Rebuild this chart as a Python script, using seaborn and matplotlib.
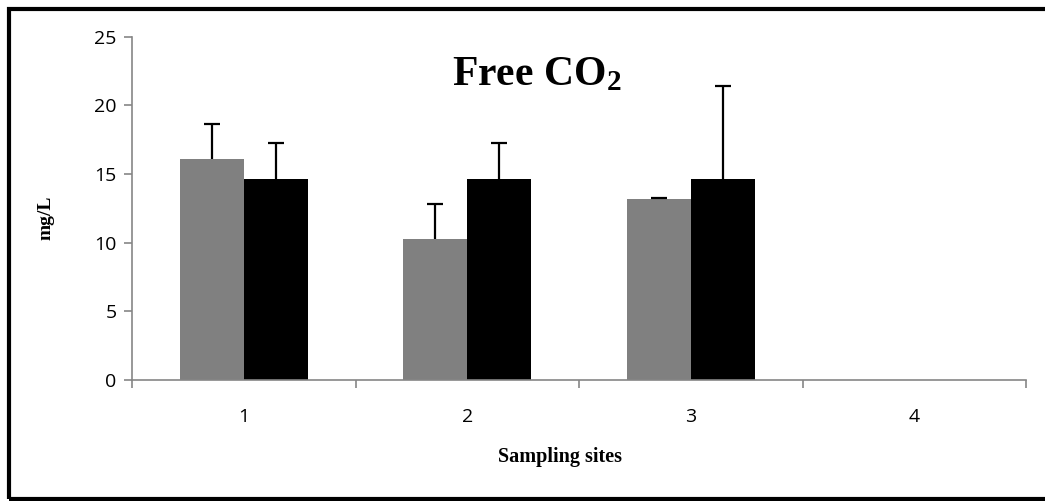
import numpy as np
import pandas as pd
import matplotlib
matplotlib.use("Agg")
import matplotlib.pyplot as plt
from matplotlib.patches import Rectangle
import seaborn as sns

# ---- data ----
sites = ["1", "2", "3", "4"]
series_names = ["A", "B"]
gray_means = [16.1, 10.3, 13.2, 0.0]
gray_err = [2.55, 2.55, 0.05, 0.0]
black_means = [14.67, 14.67, 14.67, 0.0]
black_err = [2.57, 2.57, 6.73, 0.0]
y_ticks = [0, 5, 10, 15, 20, 25]

sns.set_theme(style="white")
plt.rcParams["font.family"] = ["Open Sans", "DejaVu Sans"]
plt.rcParams["text.color"] = "black"
plt.rcParams["mathtext.fontset"] = "custom"
plt.rcParams["mathtext.rm"] = "Liberation Serif:bold"
plt.rcParams["mathtext.bf"] = "Liberation Serif:bold"
plt.rcParams["mathtext.it"] = "Liberation Serif:bold"

df = pd.DataFrame({
    "site": sites * 2,
    "series": [series_names[0]] * 4 + [series_names[1]] * 4,
    "value": gray_means + black_means,
})
errs = gray_err + black_err

W, H = 1045, 501
fig = plt.figure(figsize=(W / 100, H / 100), dpi=100)
ax = fig.add_axes([132 / W, 1 - 380 / H, (1026 - 132) / W, (380 - 36.7) / H])

sns.barplot(data=df, x="site", y="value", hue="series", order=sites,
            hue_order=series_names, palette=["#808080", "#000000"],
            width=0.573, gap=0, errorbar=None, ax=ax, legend=False,
            linewidth=0, saturation=1)

# error bars (upward only), positioned from the bar patches
bar_list = [p for p in ax.patches if isinstance(p, Rectangle)][:len(df)]
xs, ys, es = [], [], []
for p, e in zip(bar_list, errs):
    if p.get_height() == 0 and e == 0:
        continue
    xs.append(p.get_x() + p.get_width() / 2)
    ys.append(p.get_height())
    es.append(e)
_, caps, _ = ax.errorbar(xs, ys, yerr=[np.zeros(len(es)), es], fmt="none",
                         ecolor="black", elinewidth=1.6, capsize=6,
                         capthick=1.6, zorder=5)
caps[0].set_visible(False)  # no cap on the lower end

ax.set_ylim(0, 25)
ax.set_xlim(-0.5, len(sites) - 0.5)
ax.set_yticks(y_ticks)
ax.set_yticklabels([str(t) for t in y_ticks])
ax.set_xticks(range(len(sites)))
ax.set_xticklabels(sites)
ax.set_xticks(np.arange(-0.5, len(sites), 1.0), minor=True)
ax.tick_params(axis="x", which="major", length=0, pad=20, labelsize=14, labelcolor="black")
ax.tick_params(axis="x", which="minor", length=6, width=1.2, color="#868686", direction="out", bottom=True)
ax.tick_params(axis="y", length=6, width=1.2, color="#868686", pad=5, labelsize=14, labelcolor="black", left=True)
ax.set_xlabel("")
ax.set_ylabel("")
for side in ["top", "right"]:
    ax.spines[side].set_visible(False)
for side in ["left", "bottom"]:
    ax.spines[side].set_color("#868686")
    ax.spines[side].set_linewidth(1.2)

# labels and title
fig.text(46 / W, 1 - 218 / H, "mg/L", rotation=90, ha="center", va="center",
         family="Liberation Serif", weight="bold", fontsize=14, color="black")
fig.text(560 / W, 1 - 462 / H, "Sampling sites", ha="center", va="baseline",
         family="Liberation Serif", weight="bold", fontsize=14.5, color="black")
fig.text(452 / W, 1 - 85 / H, r"Free CO$_{2}$", ha="left", va="baseline",
         family="Liberation Serif", weight="bold", fontsize=30, color="black")

# outer frame (right edge lies outside the picture)
fig.add_artist(Rectangle((9 / W, 2 / H), 1.2, 1 - 11 / H, transform=fig.transFigure,
                         fill=False, edgecolor="black", linewidth=3))

fig.savefig("out.png", dpi=100)
